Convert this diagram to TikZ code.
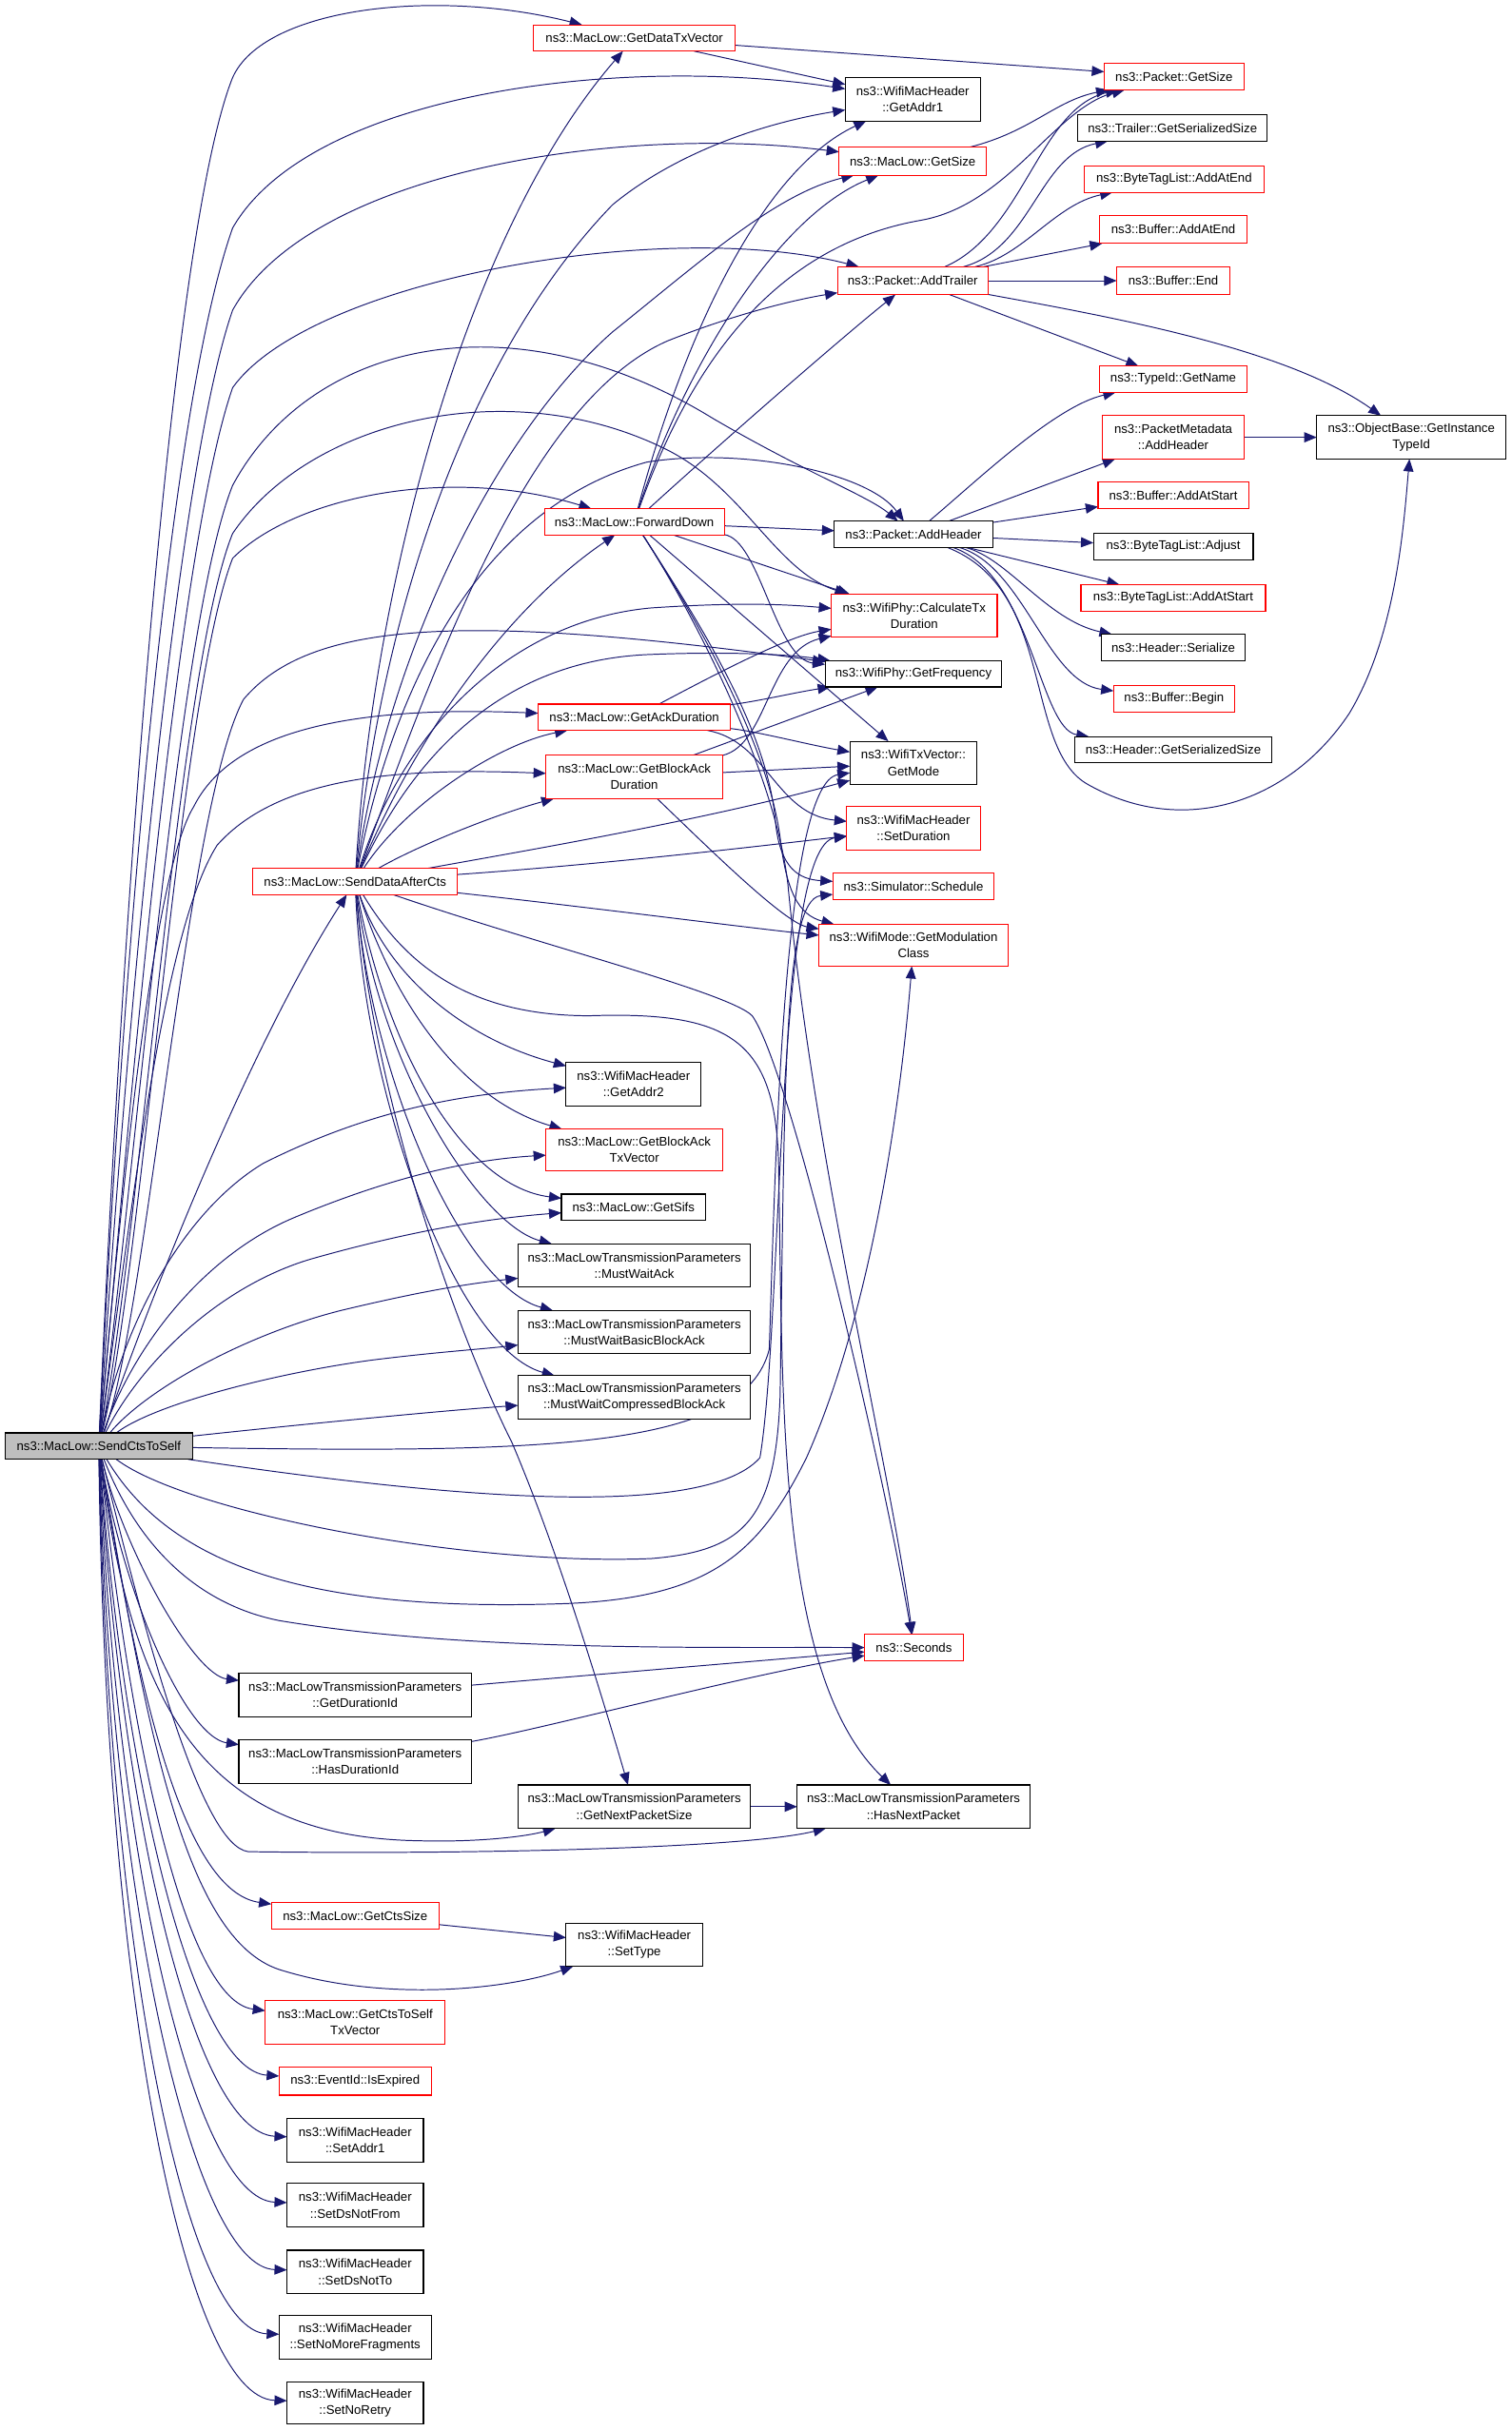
\documentclass[tikz,border=0pt]{standalone}
\usepackage{fontspec}
\setmainfont{Liberation Sans}
\usetikzlibrary{arrows.meta}
\definecolor{edgec}{HTML}{191970}
\definecolor{redb}{HTML}{FF0000}
\definecolor{grayf}{HTML}{BFBFBF}
\pgfdeclarelayer{bg}
\pgfsetlayers{bg,main}
\newcommand{\nd}[7]{\node[nbox,draw=#6,minimum width={(#4-#2)*1pt},minimum height={(#5-#3)*1pt}] (#1) at ({(#2+#4)/2},{(#3+#5)/2}) {#7};}
\begin{document}
\begin{tikzpicture}[x=1pt,y=-1pt,
  nbox/.style={rectangle,inner sep=0pt,outer sep=0pt,line width=0.7pt,align=center,fill=white,font=\fontsize{8.1}{10.6}\selectfont},
  edg/.style={draw=edgec,line width=0.6pt,-{Triangle[length=8pt,width=6.5pt]}}]
\useasboundingbox (0,0) rectangle (974.9,1567.6);
% nodes
\node[nbox,draw=black,fill=grayf,minimum width=120.6pt,minimum height=17pt] (S) at (63.7,932.5) {ns3::MacLow::SendCtsToSelf};
\nd{GDTV}{344}{16}{474}{33}{redb}{ns3::MacLow::GetDataTxVector}
\nd{GA1}{545}{50}{632}{78}{black}{ns3::WifiMacHeader\\::GetAddr1}
\nd{PGS}{712}{41}{802}{58}{redb}{ns3::Packet::GetSize}
\nd{MGS}{541}{95}{636}{113}{redb}{ns3::MacLow::GetSize}
\nd{TGSS}{695}{74}{817}{91}{black}{ns3::Trailer::GetSerializedSize}
\nd{BTAE}{699}{107}{815}{124}{redb}{ns3::ByteTagList::AddAtEnd}
\nd{BAE}{709}{139}{804}{157}{redb}{ns3::Buffer::AddAtEnd}
\nd{AT}{540}{172}{637}{190}{redb}{ns3::Packet::AddTrailer}
\nd{BE}{720}{172}{793}{190}{redb}{ns3::Buffer::End}
\nd{TGN}{709}{236}{804}{253}{redb}{ns3::TypeId::GetName}
\nd{PMAH}{711}{268}{802}{296}{redb}{ns3::PacketMetadata\\::AddHeader}
\nd{OB}{849}{268}{971}{296}{black}{ns3::ObjectBase::GetInstance\\TypeId}
\nd{BAS}{708}{311}{805}{328}{redb}{ns3::Buffer::AddAtStart}
\nd{AH}{538}{336}{640}{353}{black}{ns3::Packet::AddHeader}
\nd{BTA}{705}{344}{808}{361}{black}{ns3::ByteTagList::Adjust}
\nd{BTAS}{697}{377}{816}{394}{redb}{ns3::ByteTagList::AddAtStart}
\nd{FD}{351}{328}{467}{345}{redb}{ns3::MacLow::ForwardDown}
\nd{CTD}{536}{383}{643}{411}{redb}{ns3::WifiPhy::CalculateTx\\Duration}
\nd{HS}{710}{409}{803}{426}{black}{ns3::Header::Serialize}
\nd{GF}{532}{426}{646}{443}{black}{ns3::WifiPhy::GetFrequency}
\nd{BB}{718}{442}{796}{459}{redb}{ns3::Buffer::Begin}
\nd{GAD}{347}{454}{471}{471}{redb}{ns3::MacLow::GetAckDuration}
\nd{GBAD}{352}{487}{466}{515}{redb}{ns3::MacLow::GetBlockAck\\Duration}
\nd{GM}{548}{478}{630}{506}{black}{ns3::WifiTxVector::\\GetMode}
\nd{HGSS}{693}{475}{820}{492}{black}{ns3::Header::GetSerializedSize}
\nd{SD}{546}{520}{632}{548}{redb}{ns3::WifiMacHeader\\::SetDuration}
\nd{D}{163}{560}{295}{577}{redb}{ns3::MacLow::SendDataAfterCts}
\nd{SCH}{537}{563}{641}{580}{redb}{ns3::Simulator::Schedule}
\nd{GMC}{528}{596}{650}{623}{redb}{ns3::WifiMode::GetModulation\\Class}
\nd{GA2}{365}{685}{452}{713}{black}{ns3::WifiMacHeader\\::GetAddr2}
\nd{GBTV}{352}{728}{466}{755}{redb}{ns3::MacLow::GetBlockAck\\TxVector}
\nd{GS}{362}{770}{455}{787}{black}{ns3::MacLow::GetSifs}
\nd{MWA}{334}{802}{484}{830}{black}{ns3::MacLowTransmissionParameters\\::MustWaitAck}
\nd{MWB}{334}{845}{484}{873}{black}{ns3::MacLowTransmissionParameters\\::MustWaitBasicBlockAck}
\nd{MWC}{334}{887}{484}{915}{black}{ns3::MacLowTransmissionParameters\\::MustWaitCompressedBlockAck}
\nd{SEC}{557.5}{1054}{621}{1071}{redb}{ns3::Seconds}
\nd{GDI}{154}{1079}{304}{1107}{black}{ns3::MacLowTransmissionParameters\\::GetDurationId}
\nd{HDI}{154}{1122}{304}{1150}{black}{ns3::MacLowTransmissionParameters\\::HasDurationId}
\nd{GNPS}{334}{1151}{484}{1179}{black}{ns3::MacLowTransmissionParameters\\::GetNextPacketSize}
\nd{HNP}{514}{1151}{664}{1179}{black}{ns3::MacLowTransmissionParameters\\::HasNextPacket}
\nd{GCS}{175}{1227}{283}{1244}{redb}{ns3::MacLow::GetCtsSize}
\nd{ST}{365}{1240}{453}{1268}{black}{ns3::WifiMacHeader\\::SetType}
\nd{GCTV}{171}{1290}{287}{1318}{redb}{ns3::MacLow::GetCtsToSelf\\TxVector}
\nd{IE}{180}{1333}{278}{1351}{redb}{ns3::EventId::IsExpired}
\nd{SA1}{185}{1366}{273}{1394}{black}{ns3::WifiMacHeader\\::SetAddr1}
\nd{SDF}{185}{1408}{273}{1436}{black}{ns3::WifiMacHeader\\::SetDsNotFrom}
\nd{SDT}{185}{1451}{273}{1479}{black}{ns3::WifiMacHeader\\::SetDsNotTo}
\nd{SNMF}{180}{1493}{278}{1521}{black}{ns3::WifiMacHeader\\::SetNoMoreFragments}
\nd{SNR}{185}{1536}{273}{1563}{black}{ns3::WifiMacHeader\\::SetNoRetry}
\begin{pgfonlayer}{bg}
\fill[white] (0,0) rectangle (974.9,1567.6);
% ---- SendCtsToSelf
\draw[edg] (S) .. controls (78,600) and (110,150) .. (150,50) .. controls (170,5) and (280,-8) .. (GDTV);
\draw[edg] (S) .. controls (80,600) and (110,260) .. (150,147) .. controls (200,60) and (400,35) .. (GA1);
\draw[edg] (S) .. controls (82,650) and (115,300) .. (150,200) .. controls (200,110) and (400,80) .. (MGS);
\draw[edg] (S) .. controls (85,700) and (115,350) .. (150,250) .. controls (200,180) and (430,140) .. (AT);
\draw[edg] (S) .. controls (88,750) and (115,400) .. (150,313) .. controls (200,220) and (330,190) .. (460,270) .. controls (520,305) and (560,320) .. (AH);
\draw[edg] (S) .. controls (90,800) and (115,430) .. (150,344) .. controls (200,270) and (330,240) .. (430,290) .. controls (480,315) and (500,368) .. (CTD);
\draw[edg] (S) .. controls (92,820) and (115,450) .. (150,360) .. controls (190,320) and (290,300) .. (FD);
\draw[edg] (S) .. controls (95,850) and (120,520) .. (157,451) .. controls (200,400) and (300,395) .. (GF);
\draw[edg] (S) .. controls (80,750) and (100,560) .. (125,520) .. controls (150,470) and (230,455) .. (GAD);
\draw[edg] (S) .. controls (85,780) and (105,600) .. (140,545) .. controls (180,500) and (260,495) .. (GBAD);
\draw[edg] (S) .. controls (110,800) and (170,660) .. (D);
\draw[edg] (S) .. controls (80,850) and (120,780) .. (170,750) .. controls (240,715) and (300,705) .. (GA2);
\draw[edg] (S) .. controls (85,870) and (130,810) .. (190,785) .. controls (250,760) and (300,748) .. (GBTV);
\draw[edg] (S) .. controls (90,880) and (140,830) .. (200,812) .. controls (260,795) and (310,786) .. (GS);
\draw[edg] (S) .. controls (95,895) and (160,860) .. (220,845) .. controls (270,833) and (300,828) .. (MWA);
\draw[edg] (S) .. controls (100,905) and (180,885) .. (240,877) .. controls (280,872) and (310,870) .. (MWB);
\draw[edg] (S) .. controls (180,920) and (280,910) .. (MWC);
\draw[edg] (S) .. controls (350,937) and (480,935) .. (496,870) .. controls (500,750) and (505,505) .. (GM);
\draw[edg] (S) .. controls (250,960) and (450,985) .. (490,940) .. controls (505,850) and (500,545) .. (SD);
\draw[edg] (S) .. controls (120,975) and (300,1010) .. (420,1005) .. controls (480,1000) and (500,980) .. (503,900) .. controls (506,700) and (505,580) .. (SCH);
\draw[edg] (S) .. controls (110,1010) and (200,1040) .. (366,1034) .. controls (460,1030) and (490,1000) .. (520,940) .. controls (560,850) and (580,720) .. (GMC);
\draw[edg] (S) .. controls (90,1000) and (130,1035) .. (180,1045) .. controls (300,1065) and (450,1062) .. (SEC);
\draw[edg] (S) .. controls (80,1000) and (125,1080) .. (GDI);
\draw[edg] (S) .. controls (80,1030) and (120,1120) .. (HDI);
\draw[edg] (S) .. controls (85,1100) and (130,1185) .. (271,1187) .. controls (310,1188) and (340,1184) .. (GNPS);
\draw[edg] (S) .. controls (95,1060) and (130,1190) .. (160,1194) .. controls (300,1196) and (480,1192) .. (HNP);
\draw[edg] (S) .. controls (90,1100) and (120,1220) .. (GCS);
\draw[edg] (S) .. controls (95,1120) and (120,1250) .. (180,1270) .. controls (250,1292) and (330,1282) .. (ST);
\draw[edg] (S) .. controls (85,1130) and (120,1290) .. (GCTV);
\draw[edg] (S) .. controls (80,1150) and (125,1335) .. (IE);
\draw[edg] (S) .. controls (78,1170) and (125,1375) .. (SA1);
\draw[edg] (S) .. controls (75,1200) and (125,1418) .. (SDF);
\draw[edg] (S) .. controls (72,1230) and (125,1462) .. (SDT);
\draw[edg] (S) .. controls (70,1260) and (120,1503) .. (SNMF);
\draw[edg] (S) .. controls (68,1290) and (120,1546) .. (SNR);
% ---- SendDataAfterCts
\draw[edg] (D) .. controls (240,380) and (300,150) .. (GDTV);
\draw[edg] (D) .. controls (245,400) and (300,230) .. (395,132) .. controls (440,95) and (500,78) .. (GA1);
\draw[edg] (D) .. controls (250,420) and (320,280) .. (395,214) .. controls (450,170) and (500,125) .. (MGS);
\draw[edg] (D) .. controls (280,430) and (340,260) .. (430,220) .. controls (480,200) and (520,192) .. (AT);
\draw[edg] (D) .. controls (250,460) and (300,330) .. (417,298) .. controls (480,288) and (560,305) .. (AH);
\draw[edg] (D) .. controls (270,470) and (330,390) .. (FD);
\draw[edg] (D) .. controls (260,470) and (330,400) .. (420,392) .. controls (480,388) and (510,390) .. (CTD);
\draw[edg] (D) .. controls (270,480) and (330,425) .. (420,422) .. controls (470,420) and (510,422) .. (GF);
\draw[edg] (D) .. controls (260,520) and (320,480) .. (GAD);
\draw[edg] (D) .. controls (270,545) and (320,525) .. (GBAD);
\draw[edg] (D) .. controls (330,550) and (450,530) .. (GM);
\draw[edg] (D) .. controls (380,558) and (470,548) .. (SD);
\draw[edg] (D) .. controls (380,585) and (480,598) .. (GMC);
\draw[edg] (D) .. controls (350,610) and (470,640) .. (485,655) .. controls (510,690) and (570,950) .. (SEC);
\draw[edg] (D) .. controls (260,620) and (300,655) .. (380,655) .. controls (470,652) and (500,670) .. (502,750) .. controls (505,900) and (500,1080) .. (HNP);
\draw[edg] (D) .. controls (240,700) and (290,850) .. (330,930) .. controls (360,1000) and (390,1100) .. (GNPS);
\draw[edg] (D) .. controls (250,630) and (300,670) .. (GA2);
\draw[edg] (D) .. controls (255,650) and (300,710) .. (GBTV);
\draw[edg] (D) .. controls (250,680) and (300,765) .. (GS);
\draw[edg] (D) .. controls (245,690) and (310,790) .. (MWA);
\draw[edg] (D) .. controls (240,700) and (300,830) .. (MWB);
\draw[edg] (D) .. controls (235,710) and (295,870) .. (MWC);
% ---- ForwardDown
\draw[edg] (FD) -- (AH);
\draw[edg] (FD) -- (CTD);
\draw[edg] (FD) .. controls (490,348) and (500,425) .. (GF);
\draw[edg] (FD) -- (GM);
\draw[edg] (FD) .. controls (450,400) and (495,470) .. (500,530) .. controls (503,560) and (515,567) .. (SCH);
\draw[edg] (FD) .. controls (450,400) and (495,480) .. (503,540) .. controls (507,575) and (515,590) .. (GMC);
\draw[edg] (FD) .. controls (450,400) and (500,500) .. (508,570) .. controls (525,750) and (575,950) .. (SEC);
\draw[edg] (FD) .. controls (440,250) and (490,160) .. (594,142) .. controls (650,132) and (680,70) .. (PGS);
\draw[edg] (FD) .. controls (440,220) and (490,110) .. (GA1);
\draw[edg] (FD) .. controls (440,240) and (500,140) .. (MGS);
\draw[edg] (FD) .. controls (460,290) and (540,220) .. (AT);
% ---- GetAckDuration / GetBlockAckDuration
\draw[edg] (GAD) .. controls (470,430) and (510,410) .. (CTD);
\draw[edg] (GAD) .. controls (490,452) and (510,447) .. (GF);
\draw[edg] (GAD) .. controls (490,472) and (520,480) .. (GM);
\draw[edg] (GAD) .. controls (495,478) and (500,525) .. (SD);
\draw[edg] (GBAD) .. controls (495,480) and (495,420) .. (CTD);
\draw[edg] (GBAD) -- (GF);
\draw[edg] (GBAD) -- (GM);
\draw[edg] (GBAD) .. controls (450,540) and (505,595) .. (GMC);
% ---- others
\draw[edg] (GDTV) -- (PGS);
\draw[edg] (GDTV) -- (GA1);
\draw[edg] (MGS) .. controls (665,85) and (680,65) .. (PGS);
\draw[edg] (AT) .. controls (660,150) and (670,70) .. (PGS);
\draw[edg] (AT) .. controls (665,160) and (670,100) .. (TGSS);
\draw[edg] (AT) .. controls (660,165) and (680,132) .. (BTAE);
\draw[edg] (AT) -- (BAE);
\draw[edg] (AT) -- (BE);
\draw[edg] (AT) -- (TGN);
\draw[edg] (AT) .. controls (720,205) and (830,225) .. (OB);
\draw[edg] (AH) .. controls (630,310) and (680,262) .. (TGN);
\draw[edg] (AH) -- (PMAH);
\draw[edg] (AH) -- (BAS);
\draw[edg] (AH) -- (BTA);
\draw[edg] (AH) -- (BTAS);
\draw[edg] (AH) .. controls (650,360) and (675,400) .. (HS);
\draw[edg] (AH) .. controls (660,365) and (675,440) .. (BB);
\draw[edg] (AH) .. controls (665,370) and (670,470) .. (HGSS);
\draw[edg] (AH) .. controls (680,380) and (660,480) .. (700,505) .. controls (760,540) and (830,520) .. (870,460) .. controls (900,410) and (905,340) .. (OB);
\draw[edg] (PMAH) -- (OB);
\draw[edg] (GDI) -- (SEC);
\draw[edg] (HDI) .. controls (350,1115) and (480,1080) .. (SEC);
\draw[edg] (GNPS) -- (HNP);
\draw[edg] (GCS) -- (ST);
\end{pgfonlayer}
\end{tikzpicture}
\end{document}
